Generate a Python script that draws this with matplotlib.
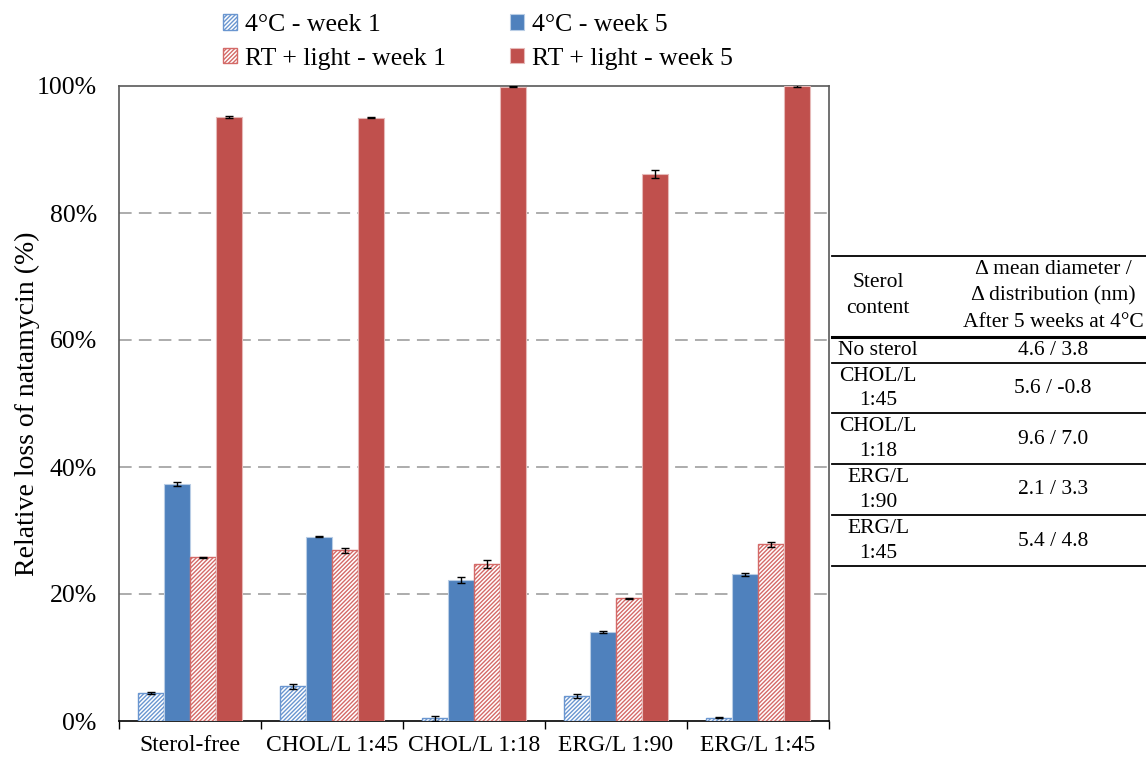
import matplotlib
matplotlib.use("Agg")
import matplotlib.pyplot as plt
import numpy as np
from matplotlib.lines import Line2D

plt.rcParams['font.family'] = ['Liberation Serif', 'DejaVu Serif']
plt.rcParams['hatch.linewidth'] = 1.0

categories = ["Sterol-free", "CHOL/L 1:45", "CHOL/L 1:18", "ERG/L 1:90", "ERG/L 1:45"]
series_names = ["4°C - week 1", "4°C - week 5", "RT + light - week 1", "RT + light - week 5"]

cold_w1 = [4.4, 5.5, 0.4, 4.0, 0.5]
cold_w5 = [37.3, 29.0, 22.2, 14.0, 23.1]
rt_w1 = [25.8, 26.9, 24.7, 19.3, 27.8]
rt_w5 = [95.1, 95.0, 99.9, 86.1, 100.0]

cold_w1_err = [0.1, 0.4, 0.4, 0.3, 0.1]
cold_w5_err = [0.3, 0.1, 0.4, 0.1, 0.2]
rt_w1_err = [0.1, 0.4, 0.6, 0.1, 0.4]
rt_w5_err = [0.2, 0.1, 0.1, 0.6, 0.1]

table_header = ["Sterol\ncontent", "Δ mean diameter /\nΔ distribution (nm)\nAfter 5 weeks at 4°C"]
table_sterol = ["No sterol", "CHOL/L\n1:45", "CHOL/L\n1:18", "ERG/L\n1:90", "ERG/L\n1:45"]
table_change = ["4.6 / 3.8", "5.6 / -0.8", "9.6 / 7.0", "2.1 / 3.3", "5.4 / 4.8"]

blue = "#4F81BD"
red = "#C0504D"

W, H = 1146, 758
fig = plt.figure(figsize=(W / 100, H / 100), dpi=100)
ax = fig.add_axes([119 / W, 1 - 721 / H, 710 / W, 635 / H])

x = np.arange(len(categories))
bw = 0.183
styles = [
    dict(values=cold_w1, err=cold_w1_err, face="white", edge="#6A96D0", hatch="////////"),
    dict(values=cold_w5, err=cold_w5_err, face=blue, edge="#B9CDE5", hatch=None),
    dict(values=rt_w1, err=rt_w1_err, face="white", edge="#D46A68", hatch="////////"),
    dict(values=rt_w5, err=rt_w5_err, face=red, edge="#E6B9B8", hatch=None),
]
handles = []
for i, (name, st) in enumerate(zip(series_names, styles)):
    pos = x + (i - 1.5) * bw
    if st["hatch"]:
        bars = ax.bar(pos, st["values"], bw, facecolor="white", edgecolor=st["edge"],
                      hatch=st["hatch"], linewidth=1.0, zorder=3)
    else:
        bars = ax.bar(pos, st["values"], bw, facecolor=st["face"], edgecolor=st["edge"],
                      linewidth=0.8, zorder=3)
    ax.errorbar(pos, st["values"], yerr=st["err"], fmt="none", ecolor="black",
                elinewidth=1.0, capsize=3, capthick=1.0, zorder=4)
    handles.append(bars)

ax.set_xlim(-0.5, len(categories) - 0.5)
ax.set_ylim(0, 100)
ax.set_yticks([0, 20, 40, 60, 80, 100])
ax.set_yticklabels([f"{v}%" for v in [0, 20, 40, 60, 80, 100]], fontsize=18.5)
ax.tick_params(axis="y", length=0, pad=16)
ax.set_xticks(x)
ax.set_xticklabels(categories, fontsize=17)
ax.set_xticks(np.arange(len(categories) + 1) - 0.5, minor=True)
ax.tick_params(axis="x", which="major", length=0, pad=10)
ax.tick_params(axis="x", which="minor", length=6, width=1.0, color="black", direction="out")
ax.set_ylabel("Relative loss of natamycin (%)", fontsize=20, labelpad=-2.5)

for v in [20, 40, 60, 80]:
    ax.axhline(v, color="#A6A6A6", linewidth=1.3, linestyle=(0, (7, 4)), zorder=1)

for side in ["left", "top", "right"]:
    ax.spines[side].set_color("#595959")
    ax.spines[side].set_linewidth(1.2)
ax.spines["bottom"].set_color("black")
ax.spines["bottom"].set_linewidth(1.2)

order = [0, 2, 1, 3]
fig.legend([handles[i] for i in order], [series_names[i] for i in order],
           loc="upper left", bbox_to_anchor=(223 / W, 1 - 14 / H), ncol=2,
           frameon=False, fontsize=18.5, handlelength=0.55, handleheight=0.55,
           handletextpad=0.3, columnspacing=2.5, labelspacing=0.45,
           borderpad=0, borderaxespad=0)

# summary table of particle size changes
def fx(px):
    return px / W

def fy(py):
    return 1 - py / H

x0, x1 = 832, 1146
col1, col2 = 878, 1053
fig.add_artist(Line2D([fx(x0), fx(x1)], [fy(256), fy(256)], color="black", linewidth=1.3))
fig.add_artist(Line2D([fx(x0), fx(x1)], [fy(337), fy(337)], color="black", linewidth=2.2))
row_lines = [363, 413, 464, 515, 566]
for yl in row_lines:
    fig.add_artist(Line2D([fx(x0), fx(x1)], [fy(yl), fy(yl)], color="black", linewidth=1.3))

fig.text(fx(col1), fy(296), table_header[0], ha="center", va="center", fontsize=15.5,
         linespacing=1.5)
fig.text(fx(col2), fy(296), table_header[1], ha="center", va="center", fontsize=15.5,
         linespacing=1.5)
row_tops = [337] + row_lines[:-1]
for top, bot, s, c in zip(row_tops, row_lines, table_sterol, table_change):
    yc = (top + bot) / 2 + 0.5
    fig.text(fx(col1), fy(yc), s, ha="center", va="center", fontsize=15.5, linespacing=1.38)
    fig.text(fx(col2), fy(yc), c, ha="center", va="center", fontsize=15.5)

fig.savefig("out.png", dpi=100)
